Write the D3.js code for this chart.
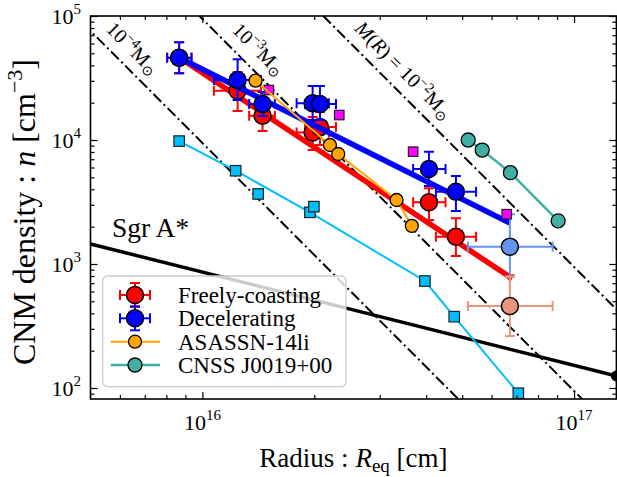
<!DOCTYPE html>
<html><head><meta charset="utf-8">
<script src="https://cdn.jsdelivr.net/npm/d3@7"></script>
<style>body{margin:0;background:#fff} svg{display:block} text{font-family:"Liberation Serif","Times New Roman",serif;fill:#000}</style>
</head><body><svg id="c" width="617" height="477"></svg>
<script>
// ---------------- data ----------------
const pR     = [8.66e15, 1.244e16, 1.452e16, 1.98e16, 2.072e16, 4.07e16, 4.81e16];
const pRlo   = [8.04e15, 1.074e16, 1.336e16, 1.793e16, 1.888e16, 3.69e16, 4.25e16];
const pRhi   = [9.35e15, 1.437e16, 1.567e16, 2.19e16, 2.288e16, 4.51e16, 5.45e16];
const fcN    = [4.61e4, 2.50e4, 1.57e4, 1.15e4, 1.27e4, 3.15e3, 1.66e3];
const fcNlo  = [3.45e4, 1.71e4, 1.18e4, 8.3e3, 9.1e3, 2.26e3, 1.16e3];
const fcNhi  = [6.14e4, 3.54e4, 2.04e4, 1.53e4, 1.68e4, 4.08e3, 2.34e3];
const dcN    = [4.61e4, 3.05e4, 1.95e4, 1.98e4, 1.95e4, 5.84e3, 3.83e3];
const dcNlo  = [3.45e4, 2.10e4, 1.56e4, 1.45e4, 1.45e4, 4.26e3, 2.68e3];
const dcNhi  = [6.14e4, 4.48e4, 2.44e4, 2.73e4, 2.73e4, 8.05e3, 5.13e3];
// uncertain event (light colours)
const uR = [6.72e16], uRlo = [5.18e16], uRhi = [8.76e16];
const uFcN = [458], uFcNlo = [262], uFcNhi = [791];
const uDcN = [1380], uDcNlo = [791], uDcNhi = [2520];
// fitted power laws
const fitR  = [8.7e15, 6.72e16];
const fitFc = [4.58e4, 785];
const fitDc = [4.58e4, 2140];
// ASASSN-14li
const asR = [1.39e16, 2.204e16, 2.32e16, 3.33e16, 3.66e16];
const asN = [3.01e4, 9.11e3, 7.71e3, 3.28e3, 2.03e3];
// CNSS J0019+00
const cnR = [5.19e16, 5.66e16, 6.74e16, 9.06e16];
const cnN = [1.0e4, 8.3e3, 5.45e3, 2.23e3];
// magenta squares
const mgR = [1.51e16, 2.335e16, 3.69e16, 6.59e16];
const mgN = [2.53e4, 1.59e4, 8.05e3, 2.52e3];
// cyan squares (connected)
const cyR = [8.66e15, 1.229e16, 1.947e16, 3.97e16, 4.76e16, 7.08e16];
const cyN = [9.8e3, 5.65e3, 2.61e3, 729, 376, 90.7];
// cyan squares (isolated)
const cxR = [1.413e16, 1.995e16];
const cxN = [3.67e3, 2.90e3];
// Sgr A*
const sgR = [5e15, 1.3e17];
const sgN = [1450, 125];
// constant-mass lines (endpoints)
const mlR = [4e15, 2e17];
const ml4 = [1.479e5, 1.183];
const ml3 = [1.479e6, 11.83];
const ml2 = [1.479e7, 118.3];
// ticks
const xMajor = [1e16, 1e17];
const xMajorLab = ["16", "17"];
const xMinor = [6e15, 7e15, 8e15, 9e15, 2e16, 3e16, 4e16, 5e16, 6e16, 7e16, 8e16, 9e16];
const yMajor = [1e2, 1e3, 1e4, 1e5];
const yMajorLab = ["2", "3", "4", "5"];
const yMinor = [90, 200, 300, 400, 500, 600, 700, 800, 900, 2000, 3000, 4000, 5000, 6000, 7000, 8000, 9000,
                20000, 30000, 40000, 50000, 60000, 70000, 80000, 90000];
const legendLabels = ["Freely-coasting", "Decelerating", "ASASSN-14li", "CNSS J0019+00"];

(function () {
// ---------------- layout ----------------
const L = 90.5, R = 616.4, T = 16, B = 399;
const svg = d3.select("#c");
const x = d3.scaleLog().domain([5e15, 1.3e17]).range([L, R]);
const y = d3.scaleLog().domain([81.5, 1e5]).range([B, T]);

svg.append("defs").append("clipPath").attr("id", "clip")
  .append("rect").attr("x", L).attr("y", T).attr("width", R - L).attr("height", B - T);
const g = svg.append("g").attr("clip-path", "url(#clip)");

const line = d3.line().x(d => x(d[0])).y(d => y(d[1]));
const zip = (a, b) => a.map((v, i) => [v, b[i]]);

// constant mass lines
[ml4, ml3, ml2].forEach(arr => {
  g.append("path").attr("d", line(zip(mlR, arr))).attr("fill", "none")
    .attr("stroke", "#000").attr("stroke-width", 2).attr("stroke-dasharray", "11,3.5,2,3.5");
});

// Sgr A*
g.append("path").attr("d", line(zip(sgR, sgN))).attr("fill", "none").attr("stroke", "#000").attr("stroke-width", 3.5);
g.append("circle").attr("cx", x(sgR[1])).attr("cy", y(sgN[1])).attr("r", 5.5).attr("fill", "#000");

// cyan squares
const CY = "#00bfff";
g.append("path").attr("d", line(zip(cyR, cyN))).attr("fill", "none").attr("stroke", CY).attr("stroke-width", 2);
function squares(rs, ns, col, s) {
  g.selectAll(null).data(zip(rs, ns)).enter().append("rect")
    .attr("x", d => x(d[0]) - s/2).attr("y", d => y(d[1]) - s/2).attr("width", s).attr("height", s)
    .attr("fill", col).attr("stroke", "#222").attr("stroke-width", 1.2);
}
squares(cyR, cyN, CY, 10.5);
squares(cxR, cxN, CY, 10.5);

// fit lines
g.append("path").attr("d", line(zip(fitR, fitFc))).attr("fill", "none").attr("stroke", "red").attr("stroke-width", 5.5);

function errpts(rs, rlo, rhi, ns, nlo, nhi, col, r, sw) {
  const data = rs.map((v, i) => ({r: v, rl: rlo[i], rh: rhi[i], n: ns[i], nl: nlo[i], nh: nhi[i]}));
  const cap = 5;
  const gg = g.append("g");
  data.forEach(d => {
    const cx = x(d.r), cy = y(d.n);
    const e = gg.append("g").attr("stroke", col).attr("stroke-width", sw);
    e.append("line").attr("x1", x(d.rl)).attr("x2", x(d.rh)).attr("y1", cy).attr("y2", cy);
    e.append("line").attr("x1", cx).attr("x2", cx).attr("y1", y(d.nl)).attr("y2", y(d.nh));
    [x(d.rl), x(d.rh)].forEach(xx => e.append("line").attr("x1", xx).attr("x2", xx).attr("y1", cy - cap).attr("y2", cy + cap));
    [y(d.nl), y(d.nh)].forEach(yy => e.append("line").attr("y1", yy).attr("y2", yy).attr("x1", cx - cap).attr("x2", cx + cap));
  });
  data.forEach(d => {
    gg.append("circle").attr("cx", x(d.r)).attr("cy", y(d.n)).attr("r", r)
      .attr("fill", col).attr("stroke", "#000").attr("stroke-width", 1.5);
  });
}
errpts(pR, pRlo, pRhi, fcN, fcNlo, fcNhi, "red", 8.5, 2);
// red arrow tip
g.append("path").attr("d", d3.symbol(d3.symbolTriangle, 40)()).attr("fill", "red")
  .attr("transform", `translate(${x(fitR[1])},${y(fitFc[1])}) rotate(180)`);

g.append("path").attr("d", line(zip(fitR, fitDc))).attr("fill", "none").attr("stroke", "blue").attr("stroke-width", 5.5);
errpts(pR, pRlo, pRhi, dcN, dcNlo, dcNhi, "blue", 8.5, 2);

errpts(uR, uRlo, uRhi, uDcN, uDcNlo, uDcNhi, "#6495ed", 8.5, 2);
errpts(uR, uRlo, uRhi, uFcN, uFcNlo, uFcNhi, "#e9967a", 8.5, 2);

// magenta
squares(mgR, mgN, "#ff00ff", 9.5);

// ASASSN-14li
const OR = "#ffa500";
g.append("path").attr("d", line(zip(asR, asN))).attr("fill", "none").attr("stroke", OR).attr("stroke-width", 2);
g.selectAll(null).data(zip(asR, asN)).enter().append("circle")
  .attr("cx", d => x(d[0])).attr("cy", d => y(d[1])).attr("r", 6.5).attr("fill", OR).attr("stroke", "#000").attr("stroke-width", 1.3);

// CNSS
const TE = "#3fb0a3";
g.append("path").attr("d", line(zip(cnR, cnN))).attr("fill", "none").attr("stroke", TE).attr("stroke-width", 2.5);
g.selectAll(null).data(zip(cnR, cnN)).enter().append("circle")
  .attr("cx", d => x(d[0])).attr("cy", d => y(d[1])).attr("r", 7).attr("fill", TE).attr("stroke", "#000").attr("stroke-width", 1.3);

// ---------------- annotations ----------------
function massLabel(cx, cy, pre, exp) {
  const t = svg.append("text").attr("font-size", 20).attr("text-anchor", "middle")
    .attr("transform", `translate(${cx},${cy}) rotate(45.1)`);
  if (pre) { t.append("tspan").attr("font-style", "italic").text("M"); t.append("tspan").text("("); t.append("tspan").attr("font-style", "italic").text("R"); t.append("tspan").text(") = "); }
  t.append("tspan").text("10");
  t.append("tspan").attr("dy", -8).attr("font-size", 14).text("−" + exp);
  t.append("tspan").attr("dy", 8).text("M");
  t.append("tspan").attr("dy", 4).attr("font-size", 14).text("⊙");
}
massLabel(128, 53, false, "4");
massLabel(254, 54, false, "3");
massLabel(399, 75, true, "2");

svg.append("text").attr("x", 112).attr("y", 237).attr("font-size", 27.5).text("Sgr A*");

// ---------------- axes ----------------
const ax = svg.append("g");
const aBot = d3.axisBottom(x).tickValues(xMajor).tickSize(-7).tickFormat("");
const aBotm = d3.axisBottom(x).tickValues(xMinor).tickSize(-4).tickFormat("");
const aTop = d3.axisTop(x).tickValues(xMajor).tickSize(-7).tickFormat("");
const aTopm = d3.axisTop(x).tickValues(xMinor).tickSize(-4).tickFormat("");
const aLef = d3.axisLeft(y).tickValues(yMajor).tickSize(-7).tickFormat("");
const aLefm = d3.axisLeft(y).tickValues(yMinor).tickSize(-4).tickFormat("");
const aRig = d3.axisRight(y).tickValues(yMajor).tickSize(-7).tickFormat("");
const aRigm = d3.axisRight(y).tickValues(yMinor).tickSize(-4).tickFormat("");
[[aBot, `0,${B}`], [aBotm, `0,${B}`], [aTop, `0,${T}`], [aTopm, `0,${T}`],
 [aLef, `${L},0`], [aLefm, `${L},0`], [aRig, `${R},0`], [aRigm, `${R},0`]].forEach(([a, tr]) => {
  const s = ax.append("g").attr("transform", `translate(${tr})`).call(a);
  s.select(".domain").remove();
  s.selectAll("line").attr("stroke", "#000").attr("stroke-width", 1.2);
});
ax.append("rect").attr("x", L).attr("y", T).attr("width", R - L).attr("height", B - T)
  .attr("fill", "none").attr("stroke", "#000").attr("stroke-width", 1.6);

// tick labels
xMajor.forEach((v, i) => {
  const t = svg.append("text").attr("x", x(v)).attr("y", 430).attr("text-anchor", "middle").attr("font-size", 22);
  t.append("tspan").text("10");
  t.append("tspan").attr("dy", -10).attr("font-size", 15).text(xMajorLab[i]);
});
yMajor.forEach((v, i) => {
  const t = svg.append("text").attr("x", 81).attr("y", y(v) + 8).attr("text-anchor", "end").attr("font-size", 22);
  t.append("tspan").text("10");
  t.append("tspan").attr("dy", -10).attr("font-size", 15).text(yMajorLab[i]);
});

// axis labels
const xl = svg.append("text").attr("x", (L + R) / 2).attr("y", 467).attr("text-anchor", "middle").attr("font-size", 27);
xl.append("tspan").text("Radius : ");
xl.append("tspan").attr("font-style", "italic").text("R");
xl.append("tspan").attr("dy", 5).attr("font-size", 19).text("eq");
xl.append("tspan").attr("dy", -5).text(" [cm]");

const yl = svg.append("text").attr("transform", `translate(35,212) rotate(-90)`).attr("text-anchor", "middle").attr("font-size", 32);
yl.append("tspan").text("CNM density : ");
yl.append("tspan").attr("font-style", "italic").text("n");
yl.append("tspan").text(" [cm");
yl.append("tspan").attr("dy", -13).attr("font-size", 22).text("−3");
yl.append("tspan").attr("dy", 13).text("]");

// ---------------- legend ----------------
const lg = svg.append("g");
lg.append("rect").attr("x", 102.7).attr("y", 276).attr("width", 243.3).attr("height", 110.7).attr("rx", 5)
  .attr("fill", "#fff").attr("fill-opacity", 0.8).attr("stroke", "#cccccc").attr("stroke-width", 1.3);
const rowY = [295, 318.3, 341.7, 365];
const hx = 135;
["red", "blue"].forEach((col, i) => {
  const cy = rowY[i];
  const e = lg.append("g").attr("stroke", col).attr("stroke-width", 2);
  e.append("line").attr("x1", hx - 15).attr("x2", hx + 15).attr("y1", cy).attr("y2", cy);
  e.append("line").attr("x1", hx).attr("x2", hx).attr("y1", cy - 12).attr("y2", cy + 12);
  [hx - 15, hx + 15].forEach(xx => e.append("line").attr("x1", xx).attr("x2", xx).attr("y1", cy - 5).attr("y2", cy + 5));
  [cy - 12, cy + 12].forEach(yy => e.append("line").attr("x1", hx - 5).attr("x2", hx + 5).attr("y1", yy).attr("y2", yy));
  lg.append("circle").attr("cx", hx).attr("cy", cy).attr("r", 8.5).attr("fill", col).attr("stroke", "#000").attr("stroke-width", 1.5);
});
[[OR, 6.5, 2], [TE, 7, 2.5]].forEach(([col, r, sw], j) => {
  const cy = rowY[j + 2];
  lg.append("line").attr("x1", 110.7).attr("x2", 160).attr("y1", cy).attr("y2", cy).attr("stroke", col).attr("stroke-width", sw);
  lg.append("circle").attr("cx", hx).attr("cy", cy).attr("r", r).attr("fill", col).attr("stroke", "#000").attr("stroke-width", 1.3);
});
legendLabels.forEach((s, i) => {
  lg.append("text").attr("x", 178).attr("y", rowY[i] + 8).attr("font-size", 23).text(s);
});
})();
</script></body></html>
